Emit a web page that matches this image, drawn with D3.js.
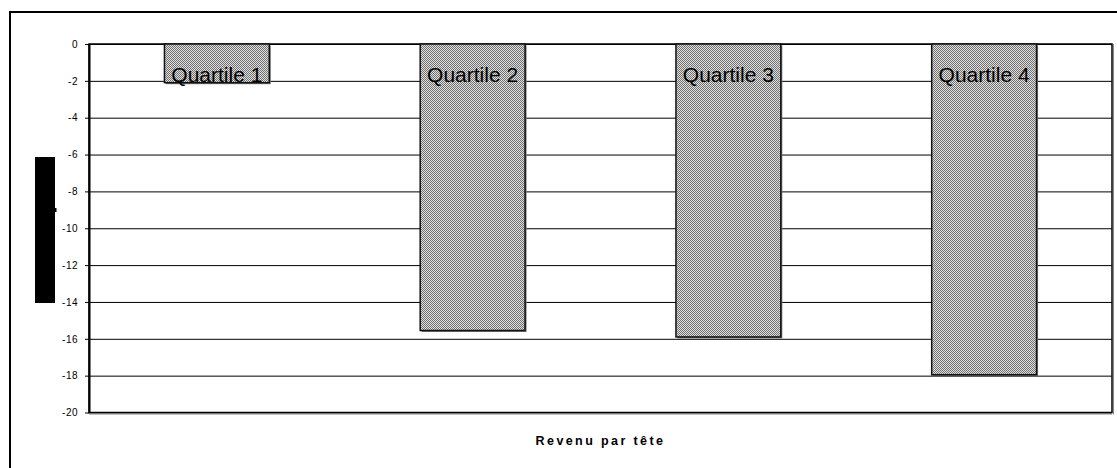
<!DOCTYPE html>
<html lang="fr">
<head>
<meta charset="utf-8">
<style type="text/css">
body { margin: 0; background: #fff; }
svg { display: block; font-family: Arial, "Liberation Sans", sans-serif; }
.grid line { stroke: #000; stroke-width: 1px; }
.grid .domain { display: none; }
.yaxis text { font-size: 10px; fill: #000; letter-spacing: 0.5px; }
.yaxis line { stroke: #000; }
.yaxis .domain { stroke: #000; stroke-width: 2px; }
.bar-label { font-size: 21px; fill: #000; }
.xtitle { font-size: 12.5px; font-weight: bold; letter-spacing: 2.4px; }
</style>
</head>
<body>
<svg width="1117" height="468"></svg>
<script src="https://cdn.jsdelivr.net/npm/d3@7/dist/d3.min.js"></script>
<script type="text/javascript">
// data
var quartiles = ["Quartile 1", "Quartile 2", "Quartile 3", "Quartile 4"];
var values = [-2.1, -15.55, -15.9, -17.95];
var yTicks = [0, -2, -4, -6, -8, -10, -12, -14, -16, -18, -20];
var xTitle = "Revenu par tête";

var svg = d3.select("svg");
var plot = {left: 89, top: 44, right: 1112, bottom: 412.5};

// outer chart frame (runs off the right and bottom of the picture)
svg.append("rect")
    .attr("x", 10).attr("y", 12)
    .attr("width", 1200).attr("height", 600)
    .attr("fill", "none").attr("stroke", "#000").attr("stroke-width", 2);

// checker fill of the bars
var defs = svg.append("defs");
var pat = defs.append("pattern")
    .attr("id", "checker")
    .attr("width", 2).attr("height", 2)
    .attr("patternUnits", "userSpaceOnUse");
pat.append("rect").attr("width", 2).attr("height", 2).attr("fill", "#e0e0e0");
pat.append("rect").attr("width", 1).attr("height", 1).attr("fill", "#707070");
pat.append("rect").attr("x", 1).attr("y", 1).attr("width", 1).attr("height", 1).attr("fill", "#707070");

var x = d3.scaleBand()
    .domain(quartiles)
    .range([plot.left, plot.right])
    .paddingInner(0.59)
    .paddingOuter(0.295);

var y = d3.scaleLinear()
    .domain([0, -20])
    .range([plot.top, plot.bottom]);

// gridlines
svg.append("g")
    .attr("class", "grid")
    .attr("transform", "translate(" + plot.left + ",0)")
    .call(d3.axisLeft(y).tickValues(yTicks).tickSize(-(plot.right - plot.left)).tickFormat(""));

// plot area border
svg.append("rect")
    .attr("x", plot.left).attr("y", plot.top)
    .attr("width", plot.right - plot.left).attr("height", plot.bottom - plot.top)
    .attr("fill", "none").attr("stroke", "#000").attr("stroke-width", 1.5);
svg.append("line")
    .attr("x1", plot.left).attr("x2", plot.right)
    .attr("y1", plot.bottom + 1.5).attr("y2", plot.bottom + 1.5)
    .attr("stroke", "#888").attr("stroke-width", 1);
svg.append("line")
    .attr("x1", plot.right + 1.5).attr("x2", plot.right + 1.5)
    .attr("y1", plot.top).attr("y2", plot.bottom + 2)
    .attr("stroke", "#888").attr("stroke-width", 1);

// bars
var bars = svg.append("g").selectAll("g")
    .data(quartiles)
    .enter()
    .append("g");

bars.append("rect")
    .attr("x", function (d) { return x(d) + 1.5; })
    .attr("y", y(0) + 1.5)
    .attr("width", x.bandwidth())
    .attr("height", function (d, i) { return y(values[i]) - y(0); })
    .attr("fill", "#777");

bars.append("rect")
    .attr("x", function (d) { return x(d); })
    .attr("y", y(0))
    .attr("width", x.bandwidth())
    .attr("height", function (d, i) { return y(values[i]) - y(0); })
    .attr("fill", "url(#checker)")
    .attr("stroke", "#111")
    .attr("stroke-width", 1.5);

bars.append("text")
    .attr("class", "bar-label")
    .attr("x", function (d) { return x(d) + x.bandwidth() / 2; })
    .attr("y", y(0) + 38)
    .attr("text-anchor", "middle")
    .text(function (d) { return d; });

// y axis
var yAxis = svg.append("g")
    .attr("class", "yaxis")
    .attr("transform", "translate(" + plot.left + ",0)")
    .call(d3.axisLeft(y).tickValues(yTicks).tickSize(4).tickPadding(7).tickSizeOuter(0));
yAxis.selectAll("text").text(function (d) { return d === 0 ? "0" : "-" + Math.abs(d); });

// y axis title box (drawn as a filled black block in the original)
svg.append("rect")
    .attr("x", 35).attr("y", 157)
    .attr("width", 20).attr("height", 146)
    .attr("fill", "#000");
svg.append("rect")
    .attr("x", 55).attr("y", 208)
    .attr("width", 1.5).attr("height", 4)
    .attr("fill", "#000");

// x axis title
svg.append("text")
    .attr("class", "xtitle")
    .attr("x", (plot.left + plot.right) / 2)
    .attr("y", 445)
    .attr("text-anchor", "middle")
    .text(xTitle);
</script>
</body>
</html>
